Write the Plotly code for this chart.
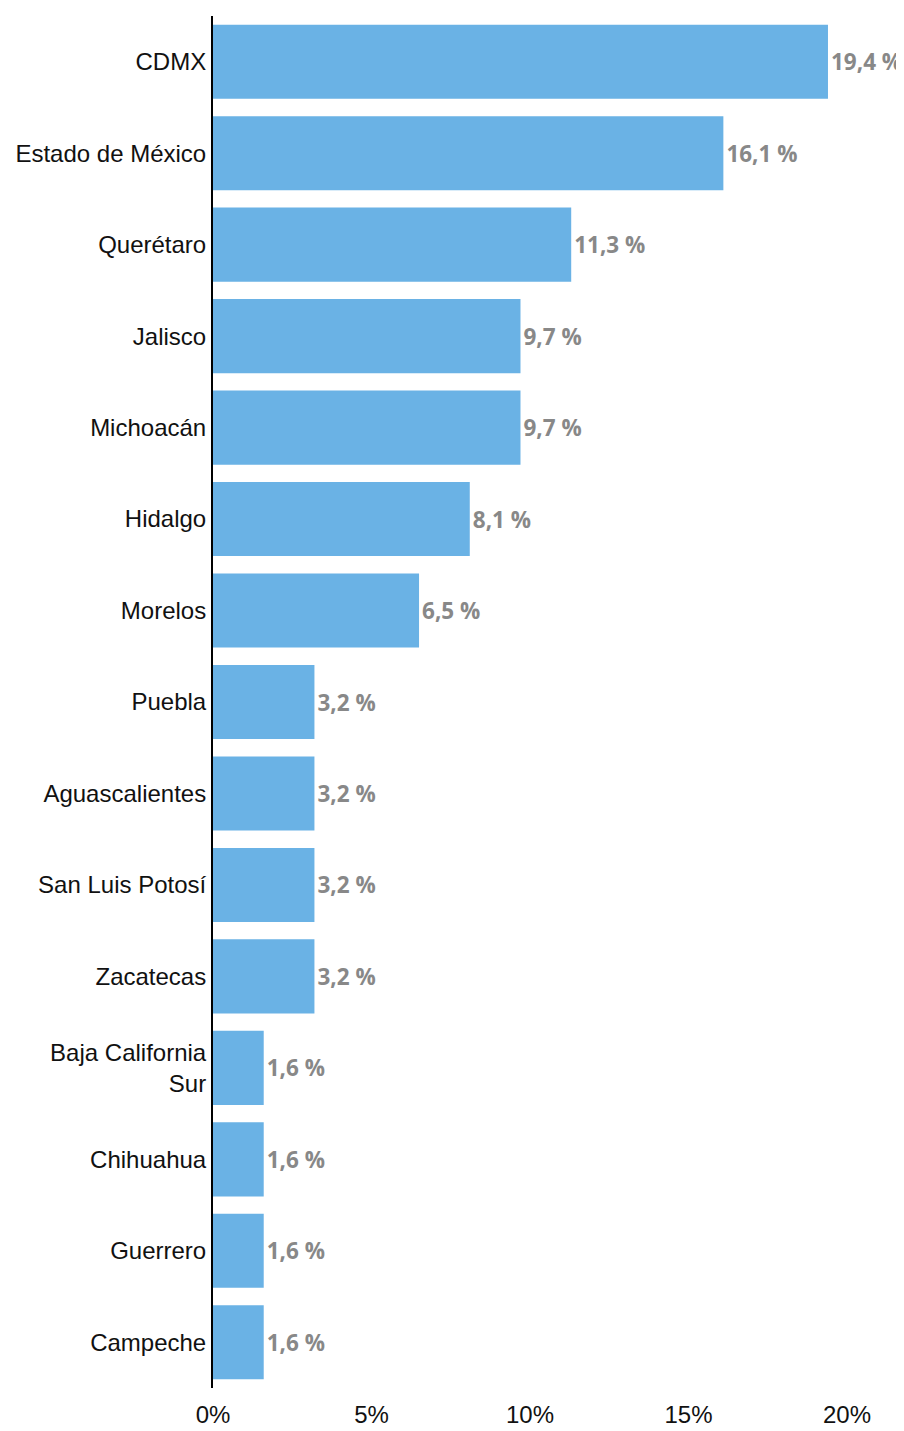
import plotly.graph_objects as go

states = ["CDMX", "Estado de México", "Querétaro", "Jalisco", "Michoacán", "Hidalgo",
          "Morelos", "Puebla", "Aguascalientes", "San Luis Potosí", "Zacatecas",
          "Baja California<br>Sur", "Chihuahua", "Guerrero", "Campeche"]
values = [19.4, 16.1, 11.3, 9.7, 9.7, 8.1, 6.5, 3.2, 3.2, 3.2, 3.2, 1.6, 1.6, 1.6, 1.6]
x_ticks = [0, 5, 10, 15, 20]
x_tick_labels = ["0%", "5%", "10%", "15%", "20%"]

fig = go.Figure(go.Bar(
    x=values, y=states, orientation="h",
    marker=dict(color="#6AB2E5", line=dict(width=0)),
    texttemplate="%{x:.1f} %", textposition="outside",
    textfont=dict(family="Open Sans", size=22.5, color="#888888", weight="bold"),
    cliponaxis=False,
))

fig.update_layout(
    width=904, height=1431,
    margin=dict(l=205, r=65, t=8, b=51, autoexpand=False),
    plot_bgcolor="white", paper_bgcolor="white",
    separators=",.",
    bargap=0.19,
    showlegend=False,
    font=dict(family="Liberation Sans, Arial", size=24, color="#111111"),
)
fig.update_yaxes(autorange="reversed", showline=True, linecolor="black", linewidth=2,
                 showgrid=False, ticks="", ticklabelstandoff=0, automargin=False,
                 tickfont=dict(family="Liberation Sans, Arial", size=24, color="#111111"))
fig.update_xaxes(range=[0, 20], tickvals=x_ticks, ticktext=x_tick_labels, showgrid=False,
                 zeroline=False, showline=False, ticks="", automargin=False,
                 ticklabelstandoff=10,
                 tickfont=dict(family="Liberation Sans, Arial", size=24, color="#111111"))

fig.write_html("out.html")
